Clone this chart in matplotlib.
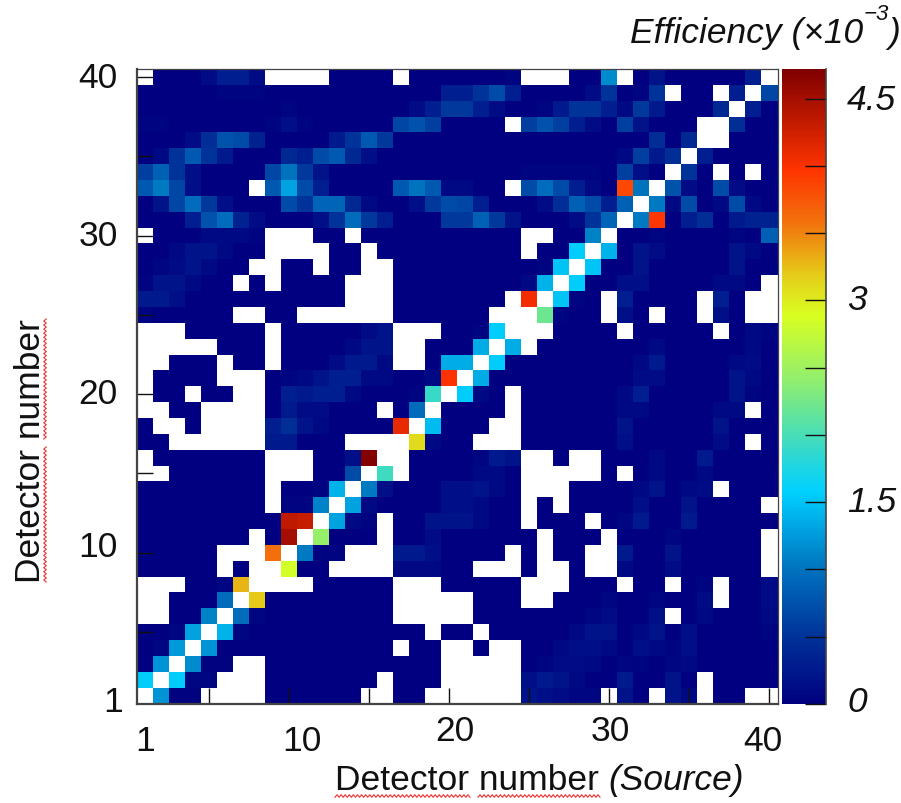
# plot.py - detector efficiency matrix
import numpy as np
import matplotlib
matplotlib.use("Agg")
import matplotlib.pyplot as plt
from matplotlib.colors import LinearSegmentedColormap
from matplotlib.lines import Line2D

plt.rcParams["font.family"] = ["Liberation Sans", "DejaVu Sans"]

_ = np.nan  # empty bin, left white

# efficiency (x10^-3), one list per target detector, from 40 at the top to 1
eff_40 = [_,0,0,0,.12,.3,.3,.12,_,_,_,_,0,0,0,0,_,0,0,0, 0,0,0,.05,_,_,_,0,0,1.15,_,0,.2,0,0,0,0,0,.3,_]
eff_39 = [0,0,0,0,0,.05,.05,.05,0,0,0,0,0,0,0,0,0,0,0,.3, .3,.5,.7,.3,0,0,0,0,.12,.5,0,.05,.5,_,0,0,_,.3,_,.65]
eff_38 = [0,0,0,0,0,0,0,0,0,.05,0,0,0,0,0,0,0,.12,.3,.55, .55,.3,.12,0,0,.05,.25,.5,.5,.3,.1,.55,.25,0,0,0,.4,_,.3,0]
eff_37 = [.05,.05,0,0,0,0,0,0,.05,.15,.05,0,0,0,0,0,.65,.75,.6,0, 0,0,0,_,.6,.75,.6,.3,.12,0,.6,.2,0,0,0,_,_,.45,0,0]
eff_36 = [0,0,0,.12,.45,.75,.7,.35,0,0,0,0,.25,.5,.8,.55,0,0,0,0, 0,0,0,0,0,0,0,0,0,0,0,0,.45,0,.4,_,_,0,0,0]
eff_35 = [0,.1,.5,.8,.5,.25,0,0,0,.4,.3,.7,.8,.4,.15,0,0,0,0,0, 0,0,0,0,0,0,0,0,0,0,.1,.6,.25,.45,_,.3,0,0,0,0]
eff_34 = [.6,.85,.5,.15,0,0,0,0,.65,1.0,.55,.2,0,0,0,0,0,0,0,0, 0,0,0,0,.05,.05,.05,.05,.05,0,.6,.15,0,_,.5,0,_,0,_,0]
eff_33 = [.8,1.05,.65,.15,0,0,0,_,.8,1.3,.7,.3,0,0,0,0,.8,1.0,.8,.1, .1,0,0,_,.7,.95,.7,.3,.08,0,3.85,1.0,_,.75,.12,0,.7,.12,0,0]
eff_32 = [0,.2,.65,.95,.55,.15,0,0,0,.7,.5,.9,.9,.4,.1,0,0,.15,.55,.7, .65,.3,0,0,0,.12,.45,.85,.7,.3,.85,_,1.05,.1,.7,0,.1,.7,.1,0]
eff_31 = [0,0,0,.3,.75,.95,.35,.12,0,0,0,.15,.5,.95,.55,.3,0,0,0,.55, .55,.85,.55,.2,0,0,0,.12,.5,.9,_,1.05,3.95,0,.3,.45,0,.25,.35,.35]
eff_30 = [_,0,0,0,.1,.1,.1,.05,_,_,_,0,0,_,0,0,0,0,0,0, 0,0,0,0,_,_,0,0,1.1,_,0,0,.05,0,0,0,0,.05,0,.85]
eff_29 = [0,0,.08,.2,.2,.1,0,0,_,_,_,_,0,0,_,0,0,0,0,0, 0,0,0,0,_,0,0,1.55,_,1.4,0,.2,.12,0,0,0,0,.2,.1,0]
eff_28 = [0,.06,.12,.2,.1,0,0,_,_,0,0,_,0,0,_,_,0,0,0,0, 0,0,0,0,0,.05,1.5,_,1.5,0,0,.2,0,0,0,0,0,.2,0,0]
eff_27 = [.05,.2,.2,.1,0,0,_,0,_,0,0,0,0,_,_,_,0,0,0,0, 0,0,0,0,.08,1.4,_,1.55,0,0,.15,.15,0,0,0,0,.1,.08,0,_]
eff_26 = [.25,.25,.15,0,0,0,0,0,0,0,0,0,0,_,_,_,0,0,0,0, 0,0,0,_,4.05,_,1.5,.05,0,_,.3,0,0,0,0,_,.3,0,_,_]
eff_25 = [.05,0,0,0,0,0,_,_,0,0,_,_,_,_,_,_,0,0,0,0, 0,0,_,_,_,2.2,.05,0,0,_,.15,0,_,0,0,_,.15,0,_,_]
eff_24 = [_,_,_,0,0,0,0,0,_,0,0,0,0,0,.12,.2,_,_,_,0, 0,.05,1.55,_,_,_,0,0,0,0,_,0,0,0,0,0,_,0,.08,.05]
eff_23 = [_,_,_,_,_,0,0,0,_,0,0,0,0,.1,.2,.2,_,_,0,0, 0,1.35,_,1.35,_,0,0,0,0,0,0,0,.1,0,0,0,0,0,.1,0]
eff_22 = [_,_,0,0,0,_,0,0,_,0,0,0,.12,.25,.25,.1,_,_,0,1.35, 1.35,_,1.55,0,0,0,0,0,0,0,0,.08,.25,0,0,0,0,.1,.12,0]
eff_21 = [_,0,0,0,0,_,_,_,0,.05,.1,.2,.3,.3,.1,.08,0,0,.1,4.0, _,1.35,0,0,0,0,0,0,0,0,0,.12,.12,0,0,0,0,.2,.1,0]
eff_20 = [_,0,0,_,0,0,_,_,0,.3,.25,.3,.3,.1,0,0,0,.05,1.9,_, 1.55,.1,0,_,0,0,0,0,0,0,.1,.3,0,0,0,0,0,.2,.05,0]
eff_19 = [_,_,0,0,_,_,_,_,0,.25,.12,.12,0,0,0,_,0,.95,_,0, 0,0,0,_,0,0,0,0,0,0,.1,.1,0,0,0,0,.1,.1,_,0]
eff_18 = [0,_,_,0,_,_,_,_,.3,.45,.2,.1,0,0,0,0,4.1,_,1.45,0, 0,0,_,_,0,0,0,0,0,0,.2,0,0,0,0,0,.2,0,0,0]
eff_17 = [0,0,_,_,_,_,_,_,.25,.25,0,0,0,_,_,_,_,3.1,.08,0, 0,_,_,_,0,0,0,0,0,0,.15,0,0,0,0,0,.12,0,_,0]
eff_16 = [_,0,0,0,0,0,0,0,_,_,_,0,0,.15,4.7,_,_,0,0,0, 0,.06,.25,.2,_,_,0,_,_,0,0,0,.08,0,0,.25,0,0,0,0]
eff_15 = [_,_,0,0,0,0,0,0,_,_,_,0,0,.7,_,1.95,_,0,0,0, 0,.1,.1,0,_,_,_,_,_,0,_,0,.1,0,0,.1,0,0,0,0]
eff_14 = [0,0,0,0,0,0,0,0,_,0,0,.05,1.4,_,1.05,.15,0,0,0,.15, .15,.2,.1,0,_,_,_,0,0,0,0,.1,.2,0,.1,.12,_,0,0,0]
eff_13 = [0,0,0,0,0,0,0,0,_,.05,.05,1.1,_,1.3,.08,0,0,0,0,.15, .15,.1,0,0,_,0,_,0,0,0,0,.15,0,0,.2,0,0,0,0,_]
eff_12 = [0,0,0,0,0,0,0,0,0,4.35,4.3,_,1.3,.1,.05,_,0,0,.2,.2, .2,.1,0,0,_,0,0,0,_,0,.06,.25,0,0,.25,0,0,0,0,0]
eff_11 = [0,0,0,0,0,0,0,_,0,4.5,_,2.45,0,0,0,_,0,0,.12,0, 0,0,0,0,0,_,0,0,0,_,0,0,0,.06,0,0,0,0,0,_]
eff_10 = [0,0,0,0,0,_,_,_,3.6,_,1.05,.05,.05,_,_,_,.25,.25,.15,0, 0,0,0,_,0,_,0,0,_,_,.25,0,0,.2,0,0,0,0,0,_]
eff_09 = [0,0,0,0,0,_,0,_,_,2.85,0,0,_,_,_,_,.08,.08,.08,0, 0,_,_,_,0,_,_,0,_,_,.1,0,0,.12,0,0,0,0,0,_]
eff_08 = [_,_,_,0,0,.06,3.3,_,_,_,_,0,0,0,0,0,_,_,_,0, 0,0,0,0,_,_,_,0,0,0,_,0,0,_,0,.05,_,0,0,.12]
eff_07 = [_,_,0,0,0,.95,_,3.2,0,0,0,0,0,0,0,0,_,_,_,_, _,0,0,0,_,_,0,0,0,.06,0,0,.05,0,0,.12,_,0,0,.12]
eff_06 = [_,_,0,0,1.1,_,.95,.06,0,0,0,0,0,0,0,0,_,_,_,_, _,0,0,0,0,0,0,0,.06,.12,0,0,.15,_,0,.1,0,0,0,.1]
eff_05 = [0,0,.06,1.3,_,1.4,.06,0,0,0,0,0,0,0,0,0,0,0,_,0, 0,_,0,0,0,0,0,.08,.2,.2,0,.1,.2,0,.15,0,0,0,0,.05]
eff_04 = [0,.06,1.25,_,1.2,0,0,0,0,0,0,0,0,0,0,0,_,0,0,_, _,0,_,_,0,0,.08,.15,.15,.08,0,.15,.08,.05,.15,0,0,0,0,0]
eff_03 = [0,1.2,_,1.15,.03,.03,_,_,0,0,0,0,0,0,0,0,0,0,0,_, _,_,_,_,0,.05,.12,.12,.08,0,.06,.05,0,.06,.08,0,0,0,0,0]
eff_02 = [1.55,_,1.55,.06,.06,_,_,_,0,0,0,0,0,0,0,_,0,0,0,_, _,_,_,_,.15,.25,.2,.08,0,0,.25,0,0,.2,0,_,0,0,0,0]
eff_01 = [_,1.2,.03,.03,_,_,_,_,0,0,0,0,0,0,_,_,0,0,_,_, _,_,_,_,.2,.15,.12,.06,.06,_,.2,0,_,.2,.1,_,0,0,_,_]

rows_top_down = [eff_40, eff_39, eff_38, eff_37, eff_36, eff_35, eff_34, eff_33, eff_32, eff_31,
                 eff_30, eff_29, eff_28, eff_27, eff_26, eff_25, eff_24, eff_23, eff_22, eff_21,
                 eff_20, eff_19, eff_18, eff_17, eff_16, eff_15, eff_14, eff_13, eff_12, eff_11,
                 eff_10, eff_09, eff_08, eff_07, eff_06, eff_05, eff_04, eff_03, eff_02, eff_01]

z_max = 4.72
major_ticks = [5, 10, 15, 20, 25, 30, 35, 40]
cbar_ticks = [0, .5, 1, 1.5, 2, 2.5, 3, 3.5, 4, 4.5]
cmap_stops = [(0, (0, 0, .5)), (.5, (0, .2, .6)), (1, (0, .45, .75)), (1.58, (0, .82, 1)),
              (1.88, (.2, .85, .8)), (2.38, (.55, .93, .45)), (2.89, (.85, 1, .13)),
              (3.19, (.9, .8, .1)), (3.58, (.95, .45, .05)), (3.98, (1, .2, 0)), (z_max, (.5, 0, 0))]

W, H = 901, 804
cmap = LinearSegmentedColormap.from_list("eff", [(v / z_max, c) for v, c in cmap_stops], N=256)
cmap.set_bad("white")

fig = plt.figure(figsize=(W / 100, H / 100), dpi=100)


def box(x0, y0, x1, y1):
    """Axes rectangle from picture pixels."""
    return [x0 / W, 1 - y1 / H, (x1 - x0) / W, (y1 - y0) / H]


def label(x, y, s, size=25.5, **kw):
    kw.setdefault("ha", "center")
    kw.setdefault("va", "center")
    fig.text(x / W, 1 - y / H, s, fontsize=size, color="#111111", **kw)


def squiggle(x0, y0, x1, y1):
    # spell-checker underline baked into the source picture
    n = int(max(abs(x1 - x0), abs(y1 - y0)) / 2)
    off = 1.3 * (-1.0) ** np.arange(n)
    xs = np.linspace(x0, x1, n) + (off if x0 == x1 else 0)
    ys = np.linspace(y0, y1, n) + (off if y0 == y1 else 0)
    fig.add_artist(Line2D(xs / W, 1 - ys / H, color="#f03030", lw=0.8))


ax = fig.add_axes(box(137.3, 70, 777.5, 704.5))
z = np.array(rows_top_down, dtype=float)[::-1]
edges = np.arange(0.5, 41.5)
mesh = ax.pcolormesh(edges, edges, np.ma.masked_invalid(z), cmap=cmap, vmin=0, vmax=z_max)
ax.set_facecolor("white")
ax.set_xticks(major_ticks)
ax.set_yticks(major_ticks)
ax.tick_params(direction="in", length=11.5, width=1, color="#111111", labelbottom=False, labelleft=False)
for side, lw in [("left", 1.6), ("bottom", 1.6), ("top", 0.9), ("right", 0.9)]:
    ax.spines[side].set_linewidth(lw)
    ax.spines[side].set_color("#444444")

cax = fig.add_axes(box(781.7, 70, 826, 705))
cbar = fig.colorbar(mesh, cax=cax)
cbar.set_ticks(cbar_ticks)
cbar.ax.tick_params(direction="in", length=15, width=1, color="#111111", labelright=False)
cbar.outline.set_visible(False)
cax.plot([1, 1], [0, 1], transform=cax.transAxes, color="#444444", lw=1.2, clip_on=False)

# the tick numbers sit in hand placed boxes in the original
for x, y, s in [(145, 742, "1"), (302, 742, "10"), (455, 732, "20"), (610, 732, "30"), (763, 742, "40")]:
    label(x, y, s)
for y, s in [(78, "40"), (236, "30"), (395, "20"), (548, "10"), (703, "1")]:
    label(98 if s != "1" else 113, y, s)
for y, s in [(101, "4.5"), (301, "3"), (503, "1.5"), (703, "0")]:
    label(847, y, s, style="italic", ha="left")

label(335, 781, "Detector number", ha="left")
label(608, 781, "(Source)", ha="left", style="italic")
label(30, 451, "Detector number", rotation=90)
label(630, 33, "Efficiency (×10", ha="left", style="italic")
label(864, 15, "−3", ha="left", style="italic", size=16)
label(888, 33, ")", ha="left", style="italic")

squiggle(335, 797, 470, 797)
squiggle(478, 797, 600, 797)
squiggle(45, 320, 45, 440)
squiggle(45, 448, 45, 583)

fig.savefig("out.png", dpi=100)
